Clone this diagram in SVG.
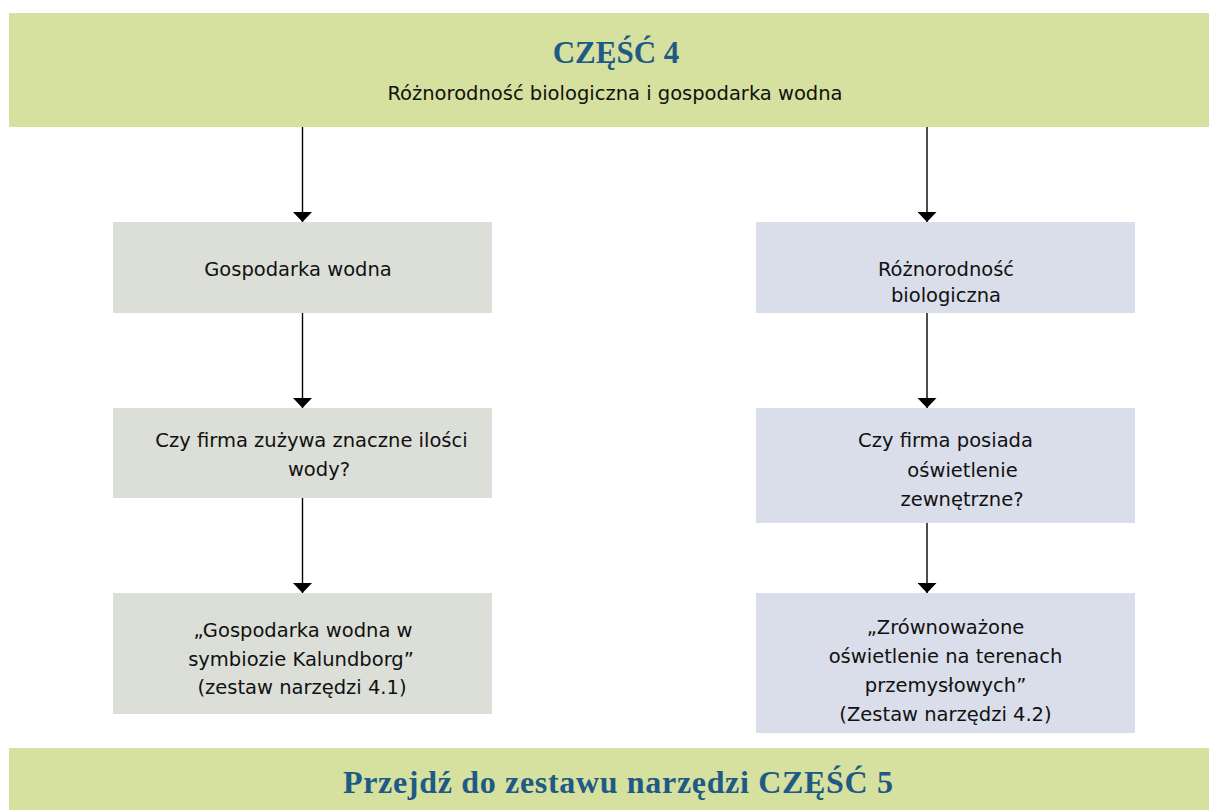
<svg xmlns="http://www.w3.org/2000/svg" width="1209" height="810" viewBox="0 0 1209 810">
  <defs>
    <marker id="arrow" markerWidth="10" markerHeight="19" refX="10" refY="9.5" orient="auto" markerUnits="userSpaceOnUse" viewBox="0 0 10 19">
      <path d="M0,0 L10,9.5 L0,19 Z" fill="#000"/>
    </marker>
    <style>
      .banner { fill: #d6e09f; }
      .water { fill: #dcdfd8; }
      .bio { fill: #dadeea; }
      .head { font-family: "Liberation Serif", "DejaVu Serif", serif; font-weight: bold; fill: #1f5a86; text-anchor: middle; }
      .lbl { font-family: "DejaVu Sans", Verdana, sans-serif; font-size: 19.5px; fill: #111; text-anchor: middle; }
      .conn { stroke: #000; stroke-width: 1.4; fill: none; marker-end: url(#arrow); }
    </style>
  </defs>
  <rect width="1209" height="810" fill="#fff"/>

  <!-- top banner -->
  <g id="part4">
    <rect class="banner" x="9" y="13" width="1200" height="114"/>
    <text class="head" x="616" y="63" font-size="31">CZĘŚĆ 4</text>
    <text class="lbl" x="615" y="100">Różnorodność biologiczna i gospodarka wodna</text>
  </g>

  <!-- left column: water management -->
  <g id="water">
    <rect class="water" x="113" y="222" width="379" height="91"/>
    <text class="lbl" x="298" y="276">Gospodarka wodna</text>
  </g>
  <g id="water-question">
    <rect class="water" x="113" y="408" width="379" height="90"/>
    <text class="lbl" x="311.5" y="447">Czy firma zużywa znaczne ilości</text>
    <text class="lbl" x="319" y="476">wody?</text>
  </g>
  <g id="toolkit-4-1">
    <rect class="water" x="113" y="593" width="379" height="121"/>
    <text class="lbl" x="303" y="637">„Gospodarka wodna w</text>
    <text class="lbl" x="301" y="666">symbiozie Kalundborg”</text>
    <text class="lbl" x="302" y="694">(zestaw narzędzi 4.1)</text>
  </g>

  <!-- right column: biodiversity -->
  <g id="biodiversity">
    <rect class="bio" x="756" y="222" width="379" height="91"/>
    <text class="lbl" x="946" y="276">Różnorodność</text>
    <text class="lbl" x="946" y="302">biologiczna</text>
  </g>
  <g id="bio-question">
    <rect class="bio" x="756" y="408" width="379" height="115"/>
    <text class="lbl" x="945.5" y="447">Czy firma posiada</text>
    <text class="lbl" x="962.5" y="477">oświetlenie</text>
    <text class="lbl" x="962" y="506">zewnętrzne?</text>
  </g>
  <g id="toolkit-4-2">
    <rect class="bio" x="756" y="593" width="379" height="140"/>
    <text class="lbl" x="945.5" y="634">„Zrównoważone</text>
    <text class="lbl" x="945.5" y="663">oświetlenie na terenach</text>
    <text class="lbl" x="945.5" y="692">przemysłowych”</text>
    <text class="lbl" x="945.5" y="721">(Zestaw narzędzi 4.2)</text>
  </g>

  <!-- bottom banner -->
  <g id="next-part">
    <rect class="banner" x="9" y="748" width="1200" height="62"/>
    <text class="head" x="618" y="793" font-size="32" textLength="550" lengthAdjust="spacing">Przejdź do zestawu narzędzi CZĘŚĆ 5</text>
  </g>

  <!-- connectors -->
  <g id="connectors">
    <line class="conn" x1="302.5" y1="127" x2="302.5" y2="222"/>
    <line class="conn" x1="302.5" y1="313" x2="302.5" y2="408"/>
    <line class="conn" x1="302.5" y1="498" x2="302.5" y2="593"/>
    <line class="conn" x1="927" y1="127" x2="927" y2="222"/>
    <line class="conn" x1="927" y1="313" x2="927" y2="408"/>
    <line class="conn" x1="927" y1="523" x2="927" y2="593"/>
  </g>
</svg>
